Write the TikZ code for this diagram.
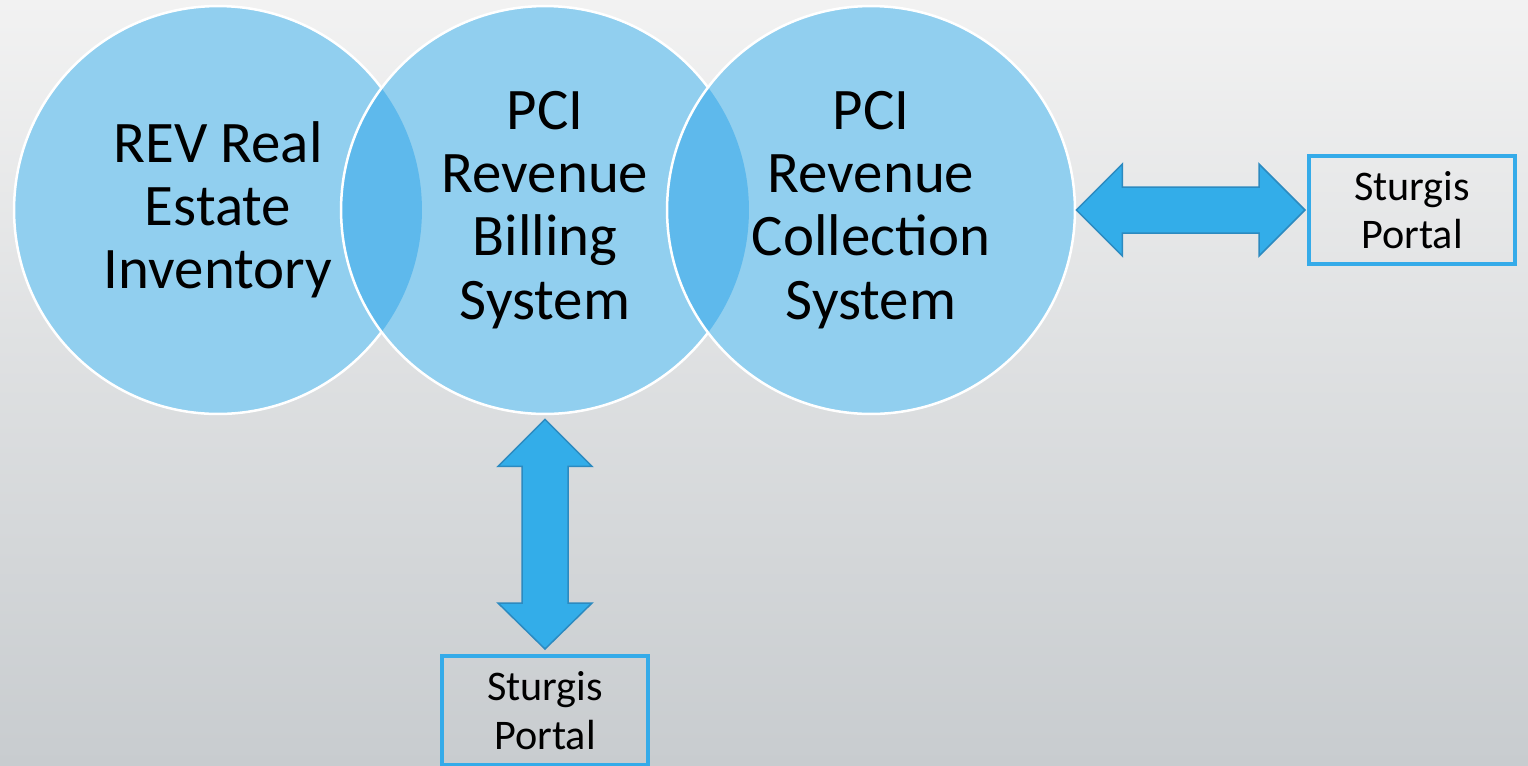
\documentclass[tikz,border=0pt]{standalone}
\usepackage{fontspec}
\setmainfont{Carlito}
\usetikzlibrary{calc}

\definecolor{cfill}{HTML}{91CFEF}
\definecolor{lens}{HTML}{5EB9EC}
\definecolor{afill}{HTML}{33ADE9}
\definecolor{aline}{HTML}{2C8AC0}
\definecolor{bline}{HTML}{35ABE9}
\definecolor{bgtop}{HTML}{F2F2F2}
\definecolor{bgbot}{HTML}{C8CCCF}

\tikzset{
  circ/.style={circle, minimum size=8.16cm, inner sep=0pt, align=center,
    font=\fontsize{33.5}{36}\selectfont},
  portal/.style={draw=bline, line width=0.08cm, minimum width=4.12cm,
    minimum height=2.18cm, align=center, font=\fontsize{24}{27.5}\selectfont},
  fat/.style={fill=afill, draw=aline, line width=0.03cm, line join=miter}
}

\begin{document}
\begin{tikzpicture}[x=0.02cm, y=-0.02cm]
  \useasboundingbox (0,0) rectangle (1528,765);
  \shade[top color=bgtop, bottom color=bgbot] (0,0) rectangle (1528,765);

  % Kreise
  \begin{scope}[draw=white, line width=0.05cm]
    \fill[cfill] (218,210) circle (4.08cm);
    \draw (218,210) circle (4.08cm);
    \fill[cfill] (545,210) circle (4.08cm);
    \fill[cfill] (871,210) circle (4.08cm);
  \end{scope}

  % Schnittflaechen
  \begin{scope}
    \clip (218,210) circle (4.08cm);
    \fill[lens] (545,210) circle (4.08cm);
  \end{scope}
  \begin{scope}
    \clip (545,210) circle (4.08cm);
    \fill[lens] (871,210) circle (4.08cm);
  \end{scope}

  \begin{scope}[draw=white, line width=0.05cm]
    \begin{scope}
      \clip (0,0) rectangle (708,765);
      \draw (545,210) circle (4.08cm);
    \end{scope}
    \draw (871,210) circle (4.08cm);
  \end{scope}

  \node[circ] (rev) at (218,210) {REV Real\\Estate\\Inventory};
  \node[circ] (bill) at (545,210) {PCI\\Revenue\\Billing\\System};
  \node[circ] (coll) at (871,210) {PCI\\Revenue\\Collection\\System};

  \node[portal] (p1) at (1412,210) {Sturgis\\Portal};
  \node[portal] (p2) at (545,710.5) {Sturgis\\Portal};

  % Pfeile
  \coordinate (a) at ($(coll.east)+(1,0)$);
  \coordinate (b) at ($(p1.west)+(-2,0)$);
  \draw[fat] (a) -- ($(a)+(46,-46)$) -- ($(a)+(46,-23)$) -- ($(b)+(-46,-23)$)
    -- ($(b)+(-46,-46)$) -- (b) -- ($(b)+(-46,46)$) -- ($(b)+(-46,23)$)
    -- ($(a)+(46,23)$) -- ($(a)+(46,46)$) -- cycle;

  \coordinate (c) at ($(bill.south)+(0,5)$);
  \coordinate (d) at ($(p2.north)+(0,-5)$);
  \draw[fat] (c) -- ($(c)+(47,47)$) -- ($(c)+(23,47)$) -- ($(d)+(23,-46)$)
    -- ($(d)+(47,-46)$) -- (d) -- ($(d)+(-47,-46)$) -- ($(d)+(-23,-46)$)
    -- ($(c)+(-23,47)$) -- ($(c)+(-47,47)$) -- cycle;

\end{tikzpicture}
\end{document}
